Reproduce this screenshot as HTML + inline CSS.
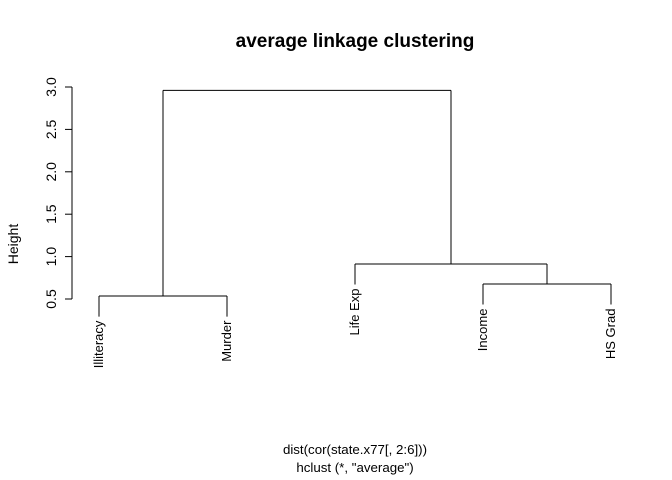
<!DOCTYPE html>
<html><head><meta charset="utf-8"><style>body{margin:0;background:#fff}svg{display:block;font-family:"Liberation Sans",sans-serif}</style></head>
<body>
<svg id="c" width="672" height="480" xmlns="http://www.w3.org/2000/svg">
<text x="355" y="47" text-anchor="middle" font-weight="bold" font-size="19">average linkage clustering</text>
<text x="355" y="454" text-anchor="middle" font-size="13.3">dist(cor(state.x77[, 2:6]))</text>
<text x="355" y="472" text-anchor="middle" font-size="13.3">hclust (*, "average")</text>
<text transform="translate(18,244) rotate(-90)" text-anchor="middle" font-size="14">Height</text>
<g id="ax"></g>
<g id="tree"></g>
</svg>
<script>
const leaves = ["Illiteracy","Murder","Life Exp","Income","HS Grad"];
const mergeHeights = [0.535, 0.677, 0.913, 2.96];
const yTicks = [0.5,1.0,1.5,2.0,2.5,3.0];
const tickLabels = ["0.5","1.0","1.5","2.0","2.5","3.0"];
const NS="http://www.w3.org/2000/svg";
const y=v=>299-(v-0.5)*84.8;
const x=i=>99+i*128;
function mk(t,a,p){const e=document.createElementNS(NS,t);for(const k in a)e.setAttribute(k,a[k]);p.appendChild(e);return e;}
const ax=document.getElementById('ax'),tr=document.getElementById('tree');
mk('line',{x1:72,x2:72,y1:y(yTicks[0]),y2:y(yTicks[yTicks.length-1]),stroke:'#000'},ax);
yTicks.forEach((t,i)=>{mk('line',{x1:65,x2:72,y1:y(t),y2:y(t),stroke:'#000'},ax);
const tx=mk('text',{transform:`translate(56,${y(t)}) rotate(-90)`,'text-anchor':'middle','font-size':14},ax);tx.textContent=tickLabels[i];

});
const hang=0.1*(mergeHeights[3]-mergeHeights[0]);
function seg(x1,y1,x2,y2){const l=mk('line',{x1,y1,x2,y2,stroke:'#000','stroke-width':1},tr);

}
function leaf(i,h){seg(x(i),y(h),x(i),y(h-hang));
const t=mk('text',{transform:`translate(${x(i)+4},${y(h-hang)+4}) rotate(-90)`,'text-anchor':'end','font-size':13},tr);t.textContent=leaves[i];

}
leaf(0,mergeHeights[0]);leaf(1,mergeHeights[0]);seg(x(0),y(mergeHeights[0]),x(1),y(mergeHeights[0]));
leaf(3,mergeHeights[1]);leaf(4,mergeHeights[1]);seg(x(3),y(mergeHeights[1]),x(4),y(mergeHeights[1]));
const bx=(x(3)+x(4))/2;
leaf(2,mergeHeights[2]);seg(bx,y(mergeHeights[1]),bx,y(mergeHeights[2]));seg(x(2),y(mergeHeights[2]),bx,y(mergeHeights[2]));
const ax_=(x(0)+x(1))/2,cx=(x(2)+bx)/2;
seg(ax_,y(mergeHeights[0]),ax_,y(mergeHeights[3]));seg(cx,y(mergeHeights[2]),cx,y(mergeHeights[3]));seg(ax_,y(mergeHeights[3]),cx,y(mergeHeights[3]));
</script>
</body></html>
